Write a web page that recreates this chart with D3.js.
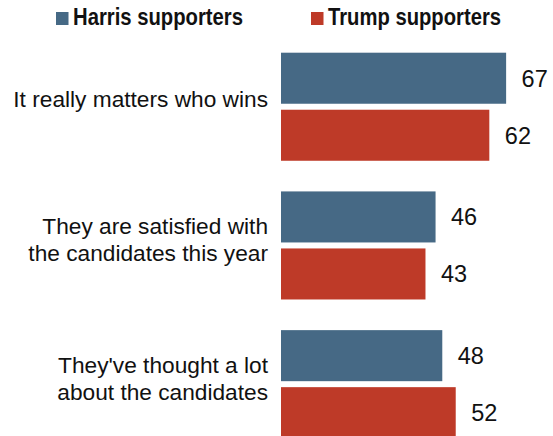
<!DOCTYPE html>
<html>
<head>
<meta charset="utf-8">
<script src="https://cdn.jsdelivr.net/npm/d3@7"></script>
<style>
  html, body { margin: 0; padding: 0; background: #fff; }
  svg { display: block; }
</style>
</head>
<body>
<svg id="chart" width="553" height="436"></svg>
<script>
// Share of each candidate's supporters who say...
const categories = [
  ["It really matters who wins"],
  ["They are satisfied with", "the candidates this year"],
  ["They've thought a lot", "about the candidates"]
];
const seriesNames = ["Harris supporters", "Trump supporters"];
const harrisValues = [67, 46, 48];
const trumpValues = [62, 43, 52];
const seriesColors = ["#466985", "#be3a28"];

const svg = d3.select("#chart");

const rows = categories.map((lines, i) => ({
  key: i,
  lines,
  values: [harrisValues[i], trumpValues[i]]
}));

// Scales
const x = d3.scaleLinear().domain([0, 100]).range([281, 281 + 336]);
const y = d3.scaleBand()
  .domain(rows.map(d => d.key))
  .range([52.7, 438.2])
  .paddingInner(0.221)
  .paddingOuter(0);
const ySub = d3.scaleBand()
  .domain([0, 1])
  .range([0, y.bandwidth()])
  .paddingInner(0.105);

// Legend
const legendX = [56, 311];
const legend = svg.append("g").attr("class", "legend");
seriesNames.forEach((name, i) => {
  const g = legend.append("g").attr("transform", `translate(${legendX[i]},0)`);
  g.append("rect")
    .attr("x", 0).attr("y", 12)
    .attr("width", 12.5).attr("height", 13)
    .attr("fill", seriesColors[i]);
  g.append("text")
    .attr("x", 17).attr("y", 25)
    .attr("font-family", "'Liberation Sans Narrow', 'Arial Narrow', 'Liberation Sans', Arial, sans-serif")
    .attr("font-weight", "bold")
    .attr("font-size", 24.5)
    .attr("textLength", i === 0 ? 170 : 173)
    .attr("lengthAdjust", "spacingAndGlyphs")
    .attr("fill", "#111")
    .text(name);
});

// Groups
const groups = svg.append("g").selectAll("g.row")
  .data(rows)
  .join("g")
  .attr("class", "row")
  .attr("transform", d => `translate(0,${y(d.key)})`);

groups.selectAll("rect.bar")
  .data(d => d.values.map((v, j) => ({ v, j })))
  .join("rect")
  .attr("class", "bar")
  .attr("x", x(0))
  .attr("y", d => ySub(d.j))
  .attr("width", d => x(d.v) - x(0))
  .attr("height", ySub.bandwidth())
  .attr("fill", d => seriesColors[d.j]);

groups.selectAll("text.value")
  .data(d => d.values.map((v, j) => ({ v, j })))
  .join("text")
  .attr("class", "value")
  .attr("x", d => x(d.v) + 15.5)
  .attr("y", d => ySub(d.j) + ySub.bandwidth() / 2 + 8.5)
  .attr("font-family", "'Liberation Sans', Arial, sans-serif")
  .attr("font-size", 23.5)
  .attr("fill", "#111")
  .text(d => d.v);

// Category labels, right-aligned against the bars
groups.append("text")
  .attr("class", "cat")
  .attr("text-anchor", "end")
  .attr("font-family", "'Liberation Sans', Arial, sans-serif")
  .attr("font-size", 22.7)
  .attr("fill", "#111")
  .each(function(d) {
    const t = d3.select(this);
    const mid = y.bandwidth() / 2;
    const offsets = d.lines.length === 1 ? [mid] : [mid - 11, mid + 16];
    d.lines.forEach((line, k) => {
      t.append("tspan")
        .attr("x", 268)
        .attr("y", offsets[k])
        .text(line);
    });
  });
</script>
</body>
</html>
